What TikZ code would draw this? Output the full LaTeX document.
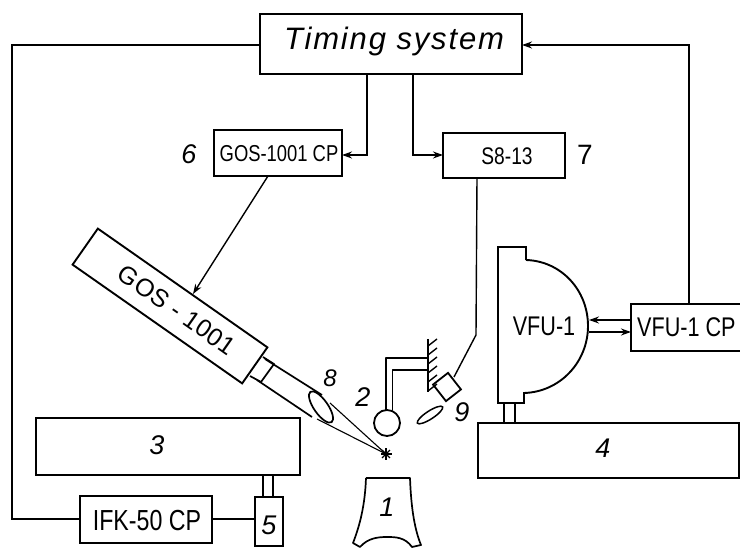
\documentclass[tikz,border=0pt]{standalone}
\usepackage{fontspec}
\setmainfont{Liberation Sans}
\newfontfamily\narrowf[FakeStretch=0.8]{Liberation Sans}
\usetikzlibrary{arrows.meta,calc,shapes.geometric}
\tikzset{
  box/.style={draw,line width=1.9pt,inner sep=0pt,outer sep=0pt,anchor=center},
  lab/.style={inner sep=0pt,font=\narrowf},
  num/.style={inner sep=0pt,font=\itshape\fontsize{27}{27}\selectfont},
  conn/.style={line width=1.4pt,line join=miter},
  arr/.style={conn,-{Stealth[length=10pt,width=7pt]}},
  part/.style={line width=1.7pt,line join=round}
}
\begin{document}
\begin{tikzpicture}[x=1pt,y=-1pt]
\useasboundingbox (0,0) rectangle (740,548);
\clip (0,0) rectangle (740,548);
% boxes
\node[box,minimum width=262pt,minimum height=60pt] (timing) at (391,44) {};
\node[inner sep=0pt,font=\itshape\fontsize{31}{31}\selectfont\addfontfeatures{LetterSpace=6}] (timingt) at (394,41) {Timing system};
\node[box,minimum width=128pt,minimum height=46pt] (goscp) at (278,153) {};
\node[lab,font=\narrowf\fontsize{23}{23}\selectfont] (goscpt) at (279,154) {GOS-1001 CP};
\node[box,minimum width=122pt,minimum height=45pt] (seight) at (504,155.5) {};
\node[lab,font=\narrowf\fontsize{24}{24}\selectfont] (seightt) at (507,156) {S8-13};
\node[box,minimum width=120pt,minimum height=47pt,anchor=west] (vfucp) at (631,327.5) {};
\node[lab,font=\narrowf\fontsize{27}{27}\selectfont,anchor=west] (vfucpt) at (637,327) {VFU-1 CP};
\node[box,minimum width=264pt,minimum height=57pt] (three) at (168,446.5) {};
\node[num] (threet) at (157,445) {3};
\node[box,minimum width=132pt,minimum height=47pt] (ifk) at (146,519.5) {};
\node[lab,font=\narrowf\fontsize{29}{29}\selectfont] (ifkt) at (147,521) {IFK-50 CP};
\node[box,minimum width=28pt,minimum height=49pt] (five) at (269,521.5) {};
\node[num] (fivet) at (269,525) {5};
\node[box,minimum width=261pt,minimum height=55pt] (four) at (608.5,450.5) {};
\node[num] (fourt) at (603,448) {4};
% GOS-1001 body
\node[box,rotate=-35,minimum width=207pt,minimum height=44pt] (gos) at (170,306) {};
\node[lab,rotate=-35,font=\fontsize{25}{25}\selectfont\addfontfeatures{LetterSpace=2}] (gost) at (177,310) {GOS - 1001};
% collar, tube, lens, cone
\draw[part] (263,357) -- (274,364) -- (261,382) -- (250,376);
\draw[part] (265,359) -- (322,395);
\draw[part] (257,380) -- (312,417);
\node[draw,line width=1.7pt,ellipse,fill=white,inner sep=0pt,rotate=-55,minimum width=37pt,minimum height=14pt] (lens) at (321,407) {};
\coordinate (spark) at (386,454);
\draw[conn,line width=1.1pt] (330,403) -- (spark);
\draw[conn,line width=1.1pt] (317,419) -- (spark);
\foreach \a in {0,45,...,315}{\draw[line width=1.1pt] (spark) -- ++(\a:5.5);}
\node[num,font=\itshape\fontsize{24}{24}\selectfont] (eight) at (330,378) {8};
\node[num,font=\itshape\fontsize{27}{27}\selectfont] (two) at (363,397) {2};
% sphere on holder
\node[draw,circle,line width=1.8pt,minimum size=26pt,inner sep=0pt] (ball) at (387,423) {};
\draw[part] (386,411) -- (386,358) -- (428,358);
\draw[part] (392.5,410) -- (392.5,370) -- (428,370);
\coordinate (walltop) at (428,339);
\coordinate (wallbot) at (428,392);
\draw[line width=2pt] (walltop) -- (wallbot);
\foreach \y in {346,355,...,391}{\draw[line width=1.4pt] (428,\y) -- ++(9,-7);}
% detector 9
\node[draw,line width=1.8pt,rotate=-52,minimum width=21pt,minimum height=19pt,inner sep=0pt] (det) at (447,387) {};
\node[draw,line width=1.5pt,ellipse,inner sep=0pt,rotate=33,minimum width=30pt,minimum height=8pt] (lenstwo) at (430,415) {};
\node[num] (nine) at (462,412) {9};
% VFU-1
\draw[line width=1.9pt,line join=miter] (526,260) -- (526,247) -- (498,247) -- (498,403) -- (524,403) -- (524,393)
  .. controls (560,392) and (588,362) .. (588,326) .. controls (588,290) and (561,261) .. (526,260);
\coordinate (vfuin) at (589,320);
\coordinate (vfuout) at (589,332);
\node[lab,font=\narrowf\fontsize{27}{27}\selectfont] (vfut) at (544,326) {VFU-1};
\draw[part] (504,404) -- (504,423);
\draw[part] (515,404) -- (515,423);
% object 1
\draw[part] (366,478) -- (410,478) .. controls (411,505) and (414,528) .. (421,545) -- (412,547)
  .. controls (405,537) and (395,537) .. (387,537) .. controls (378,537) and (368,538) .. (360,547) -- (353,543)
  .. controls (360,525) and (365,505) .. (366,478);
\node[num] (one) at (387,507) {1};
% double link 3-5
\draw[part] (263,476) -- (263,497);
\draw[part] (273,476) -- (273,497);
% numbers
\node[num] (six) at (189,154) {6};
\node[inner sep=0pt,font=\fontsize{28}{28}\selectfont] (seven) at (585,155) {7};
% connectors
\draw[conn] (timing.west |- 0,45) -- (12,45) -- (12,519) -- (ifk.west |- 0,519);
\draw[conn] (ifk.east |- 0,519) -- (five.west |- 0,519);
\draw[arr] (367,74) -- (367,155) -- (goscp.east |- 0,155);
\draw[arr] (413,74) -- (413,155) -- (seight.west |- 0,155);
\coordinate (goshit) at (193,294);
\draw[arr] (268,176) -- (goshit);
\coordinate (detin) at (454,377);
\draw[conn] (477,178) -- (476,335) -- (detin);
\draw[arr] (689,304) -- (689,45) -- (timing.east |- 0,45);
\draw[arr] (vfucp.west |- 0,320) -- (vfuin);
\draw[arr] (vfuout) -- (vfucp.west |- 0,332);
\end{tikzpicture}
\end{document}
